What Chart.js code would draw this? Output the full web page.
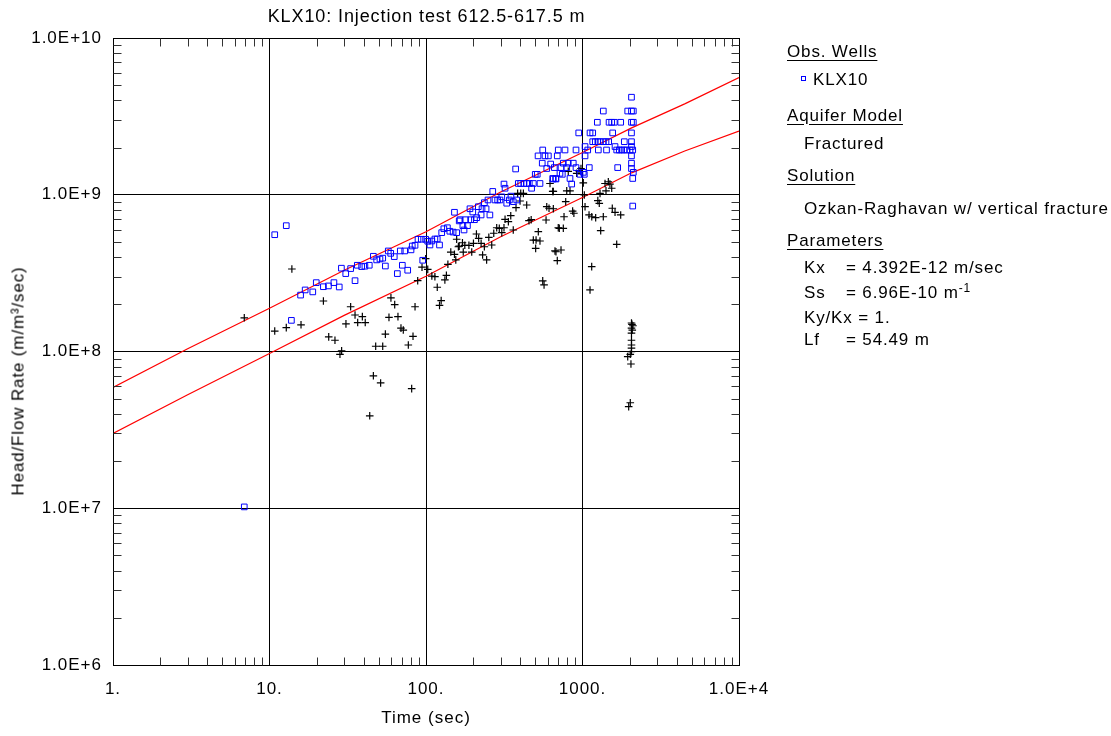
<!DOCTYPE html>
<html>
<head>
<meta charset="utf-8">
<title>KLX10 injection test</title>
<script src="https://cdn.jsdelivr.net/npm/chart.js@4/dist/chart.umd.min.js"></script>
<style>
  body { margin: 0; background: #fff; font-family: "Liberation Sans", Arial, sans-serif; }
  #wrap { position: relative; width: 1111px; height: 736px; overflow: hidden; }
  #chart { position: absolute; left: 0; top: 0; }
  .t { position: absolute; font-size: 17px; line-height: 17px; letter-spacing: 0.85px; color: #000; white-space: nowrap; }
  .u { text-decoration: underline; text-underline-offset: 3px; }
  #title { left: 0; width: 853px; top: 7px; text-align: center; font-size: 18px; line-height: 18px; letter-spacing: 0.9px; }
  #ytitle { left: 18px; top: 381px; transform: translate(-50%, -50%) rotate(-90deg); }
  #mark { position: absolute; left: 801px; top: 76px; width: 3px; height: 3px; border: 1px solid #0000ff; }
  sup { font-size: 12px; line-height: 0; vertical-align: 6px; }
</style>
</head>
<body>
<div id="wrap">
  <canvas id="chart" width="1111" height="736"></canvas>
  <div class="t" id="title">KLX10: Injection test 612.5-617.5 m</div>
  <div class="t" id="ytitle">Head/Flow Rate (m/m³/sec)</div>

  <div class="t u" style="left:787px; top:43px;">Obs. Wells</div>
  <div id="mark"></div>
  <div class="t" style="left:813px; top:71px;">KLX10</div>
  <div class="t u" style="left:787px; top:107px;">Aquifer Model</div>
  <div class="t" style="left:804px; top:135px;">Fractured</div>
  <div class="t u" style="left:787px; top:167px;">Solution</div>
  <div class="t" style="left:804px; top:200px;">Ozkan-Raghavan w/ vertical fracture</div>
  <div class="t u" style="left:787px; top:232px;">Parameters</div>
  <div class="t" style="left:804px; top:259px;">Kx</div>
  <div class="t" style="left:846px; top:259px;">= 4.392E-12 m/sec</div>
  <div class="t" style="left:804px; top:284px;">Ss</div>
  <div class="t" style="left:846px; top:284px;">= 6.96E-10 m<sup>-1</sup></div>
  <div class="t" style="left:804px; top:309px;">Ky/Kx = 1.</div>
  <div class="t" style="left:804px; top:331px;">Lf</div>
  <div class="t" style="left:846px; top:331px;">= 54.49 m</div>
</div>

<script>
// Axis ticks
const xTickValues = [1, 10, 100, 1000, 10000];
const xTickLabels = ['1.', '10.', '100.', '1000.', '1.0E+4'];
const yTickValues = [1e6, 1e7, 1e8, 1e9, 1e10];
const yTickLabels = ['1.0E+6', '1.0E+7', '1.0E+8', '1.0E+9', '1.0E+10'];
const minorSteps = [2, 3, 4, 5, 6, 7, 8, 9];

// Observed head/flow rate, well KLX10 (time in sec)
const wellTime = [
  6.9, 10.8, 12.8, 13.8, 15.8, 16.9, 18.9, 19.9, 22.1, 23.8, 25.8, 27.9, 28.8, 30.7, 33.0, 35.2, 36.4, 38.8, 40.7, 43.4,
  46.1, 48.4, 50.8, 52.9, 55.0, 57.4, 59.5, 62.7, 65.6, 68.5, 70.6, 73.1, 76.4, 80.2, 81.7, 85.1, 88.9, 93.3, 95.3, 99.5,
  102.6, 106, 109, 114, 118, 122, 126, 130, 137, 142, 149, 152, 157, 163, 165, 172, 175, 179, 184, 191,
  193, 199, 204, 211, 216, 225, 228, 236, 242, 249, 256, 267, 276, 287, 297, 305, 315, 320, 328, 341,
  349, 361, 374, 380, 389, 403, 423, 440, 457, 473, 485, 499, 514, 520, 535, 553, 557, 576, 591, 605,
  626, 645, 651, 661, 674, 677, 690, 700, 718, 729, 743, 754, 773, 793, 811, 832, 853, 873, 909, 909,
  946, 964, 1012, 1027, 1038, 1038, 1080, 1105, 1117, 1162, 1162, 1207, 1244, 1253, 1262, 1294, 1358, 1358, 1413, 1424,
  1470, 1478, 1537, 1559, 1597, 1614, 1654, 1678, 1718, 1754, 1779, 1841, 1850, 1916, 1945, 2012, 2056, 2056, 2056, 2056,
  2056, 2056, 2056, 2056, 2056, 2094, 2094, 2094, 2112, 2112, 2112
];
const wellHead = [
  1.02e7, 5.56e8, 6.35e8, 1.58e8, 2.29e8, 2.47e8, 2.40e8, 2.75e8, 2.59e8, 2.62e8, 2.75e8, 2.58e8, 3.40e8, 3.14e8, 3.38e8, 2.83e8, 3.55e8, 3.48e8, 3.50e8, 3.55e8,
  4.05e8, 3.84e8, 3.89e8, 3.94e8, 3.51e8, 4.38e8, 4.23e8, 4.03e8, 3.14e8, 4.38e8, 3.55e8, 4.38e8, 3.30e8, 4.45e8, 4.71e8, 4.76e8, 5.20e8, 5.20e8, 3.82e8, 5.20e8,
  5.05e8, 4.78e8, 5.07e8, 5.22e8, 5.22e8, 4.78e8, 5.73e8, 6.07e8, 6.16e8, 5.85e8, 5.78e8, 7.73e8, 5.73e8, 6.81e8, 6.93e8, 6.35e8, 5.96e8, 6.93e8, 6.35e8, 8.14e8,
  6.93e8, 7.76e8, 6.93e8, 7.14e8, 8.39e8, 7.43e8, 8.15e8, 8.90e8, 8.14e8, 9.26e8, 7.43e8, 1.05e9, 9.26e8, 9.26e8, 9.26e8, 9.70e8, 1.17e9, 1.10e9, 8.83e8, 9.26e8,
  9.80e8, 9.03e8, 1.46e9, 9.26e8, 1.18e9, 1.18e9, 1.18e9, 1.18e9, 1.18e9, 1.10e9, 1.18e9, 1.35e9, 1.35e9, 1.77e9, 1.18e9, 1.59e9, 1.93e9, 1.77e9, 1.47e9, 1.77e9,
  1.57e9, 1.27e9, 1.26e9, 1.49e9, 1.27e9, 1.26e9, 1.77e9, 1.93e9, 1.37e9, 1.49e9, 1.35e9, 1.59e9, 1.93e9, 1.49e9, 1.59e9, 1.27e9, 1.17e9, 1.59e9, 1.93e9, 1.49e9,
  2.48e9, 1.35e9, 1.39e9, 1.35e9, 2.03e9, 1.77e9, 1.93e9, 1.49e9, 2.48e9, 2.48e9, 2.18e9, 2.18e9, 2.90e9, 2.18e9, 1.93e9, 2.18e9, 3.42e9, 2.18e9, 2.18e9, 1.93e9,
  2.18e9, 2.90e9, 2.90e9, 2.48e9, 2.90e9, 2.03e9, 1.93e9, 1.49e9, 1.93e9, 2.90e9, 1.93e9, 1.93e9, 2.18e9, 1.93e9, 3.42e9, 1.93e9, 4.19e9, 3.42e9, 2.90e9, 2.48e9,
  2.18e9, 2.03e9, 1.77e9, 1.59e9, 1.47e9, 1.93e9, 1.27e9, 8.47e8, 3.42e9, 2.90e9, 1.39e9
];

// Derivative (crosses)
const derivTime = [
  6.9, 10.8, 12.8, 13.9, 15.9, 22.1, 23.9, 26.2, 28.2, 28.9, 30.8, 33.0, 35.2, 36.6, 39.2, 40.9, 43.7, 46.1, 47.7, 51.3,
  52.9, 55.0, 58.0, 59.7, 63.1, 66.2, 69.2, 71.6, 77.1, 81.0, 82.6, 85.1, 88.5, 94.3, 99.5, 102.6, 109, 114, 118, 122,
  125, 132, 135, 138, 144, 152, 155, 157, 161, 163, 171, 173, 177, 188, 196, 201, 210, 217, 225, 230,
  236, 244, 252, 263, 271, 283, 294, 305, 315, 320, 336, 348, 361, 376, 385, 399, 403, 419, 440, 455,
  470, 485, 502, 505, 522, 535, 557, 568, 585, 591, 611, 620, 645, 651, 651, 667, 677, 690, 700, 711,
  729, 754, 762, 781, 793, 811, 832, 865, 881, 918, 950, 978, 1012, 1027, 1038, 1101, 1117, 1145, 1146, 1214,
  1253, 1280, 1294, 1307, 1358, 1393, 1413, 1462, 1497, 1537, 1550, 1614, 1654, 1754, 1945, 1973, 2020, 2020, 2040, 2056,
  2056, 2056, 2056, 2056, 2056, 2056, 2070, 2080, 2100
];
const derivValue = [
  1.64e8, 1.35e8, 1.42e8, 3.36e8, 1.48e8, 2.10e8, 1.24e8, 1.18e8, 9.6e7, 1.01e8, 1.50e8, 1.93e8, 1.71e8, 1.53e8, 1.67e8, 1.53e8, 3.89e7, 7.0e7, 1.08e8, 6.3e7,
  1.08e8, 1.29e8, 1.65e8, 2.20e8, 1.99e8, 1.67e8, 1.41e8, 1.37e8, 1.10e8, 5.8e7, 1.25e8, 1.93e8, 2.83e8, 3.45e8, 3.91e8, 3.34e8, 3.03e8, 3.00e8, 2.57e8, 1.97e8,
  2.11e8, 2.86e8, 3.06e8, 3.60e8, 4.31e8, 4.17e8, 3.84e8, 5.20e8, 4.66e8, 4.70e8, 4.94e8, 4.31e8, 4.76e8, 4.76e8, 4.31e8, 4.90e8, 5.62e8, 5.27e8, 4.90e8, 4.13e8,
  4.66e8, 3.84e8, 5.35e8, 4.78e8, 5.68e8, 6.16e8, 6.10e8, 5.73e8, 6.16e8, 6.97e8, 6.73e8, 7.35e8, 5.96e8, 8.27e8, 1.02e9, 9.12e8, 1.02e9, 1.02e9, 8.60e8, 6.83e8,
  6.93e8, 5.14e8, 4.55e8, 5.14e8, 5.81e8, 5.07e8, 2.82e8, 2.66e8, 6.90e8, 8.39e8, 8.20e8, 1.18e9, 1.05e9, 8.14e8, 1.05e9, 4.38e8, 4.33e8, 3.80e8, 6.16e8, 6.11e8,
  4.44e8, 6.11e8, 7.24e8, 9.03e8, 1.06e9, 1.41e9, 1.06e9, 7.87e8, 7.62e8, 1.37e9, 1.42e9, 1.47e9, 1.19e9, 9.96e8, 8.39e8, 7.43e8, 2.47e8, 3.48e8, 7.24e8, 7.14e8,
  9.17e8, 8.82e8, 1.02e9, 5.90e8, 7.24e8, 1.18e9, 1.06e9, 1.21e9, 1.17e9, 1.10e9, 8.20e8, 7.73e8, 4.83e8, 7.43e8, 9.27e7, 4.45e7, 9.6e7, 4.71e7, 8.32e7, 1.52e8,
  1.41e8, 1.31e8, 1.18e8, 1.10e8, 1.05e8, 9.97e7, 1.49e8, 1.37e8, 1.46e8
];

// Ozkan-Raghavan type curves (upper: head, lower: derivative)
const curveTime = [1, 3, 10, 30, 100, 300, 1000, 2060, 4500, 10000];
const curveHead = [5.9e7, 1.04e8, 1.89e8, 3.3e8, 5.8e8, 1.04e9, 1.86e9, 2.67e9, 3.80e9, 5.6e9];
const curveDeriv = [3.0e7, 5.3e7, 9.7e7, 1.7e8, 3.02e8, 5.4e8, 9.6e8, 1.38e9, 1.90e9, 2.55e9];

const pts = (xs, ys) => xs.map((x, i) => ({ x, y: ys[i] }));
const font = { family: '"Liberation Sans", Arial, sans-serif', size: 17 };

// Frame on all four sides + inward minor ticks
const frameTicks = {
  id: 'frameTicks',
  beforeDraw(chart) {
    chart.ctx.letterSpacing = '1px';
  },
  afterDraw(chart) {
    const { ctx, chartArea: a, scales: { x, y } } = chart;
    const len = 8;
    ctx.save();
    ctx.strokeStyle = '#000';
    ctx.lineWidth = 1;
    const L = Math.round(a.left) + 0.5, T = Math.round(a.top) + 0.5;
    const R = Math.round(a.right) + 0.5, B = Math.round(a.bottom) + 0.5;
    ctx.strokeRect(L, T, R - L, B - T);
    ctx.strokeStyle = '#333';
    ctx.beginPath();
    xTickValues.slice(0, -1).forEach(d => minorSteps.forEach(m => {
      const px = Math.round(x.getPixelForValue(d * m)) + 0.5;
      ctx.moveTo(px, B); ctx.lineTo(px, B - len);
      ctx.moveTo(px, T); ctx.lineTo(px, T + len);
    }));
    yTickValues.slice(0, -1).forEach(d => minorSteps.forEach(m => {
      const py = Math.round(y.getPixelForValue(d * m)) + 0.5;
      ctx.moveTo(L, py); ctx.lineTo(L + len, py);
      ctx.moveTo(R, py); ctx.lineTo(R - len, py);
    }));
    ctx.stroke();
    ctx.restore();
  }
};

new Chart(document.getElementById('chart'), {
  type: 'scatter',
  data: {
    datasets: [
      {
        label: 'KLX10',
        data: pts(wellTime, wellHead),
        pointStyle: 'rect',
        pointRadius: 4,
        borderColor: '#0000ff',
        backgroundColor: 'rgba(0,0,0,0)',
        borderWidth: 1
      },
      {
        label: 'Derivative',
        data: pts(derivTime, derivValue),
        pointStyle: 'cross',
        pointRadius: 3.8,
        borderColor: '#000',
        borderWidth: 1.2
      },
      {
        label: 'Head curve',
        data: pts(curveTime, curveHead),
        showLine: true,
        pointRadius: 0,
        borderColor: '#ff0000',
        borderWidth: 1.2,
        tension: 0
      },
      {
        label: 'Derivative curve',
        data: pts(curveTime, curveDeriv),
        showLine: true,
        pointRadius: 0,
        borderColor: '#ff0000',
        borderWidth: 1.2,
        tension: 0
      }
    ]
  },
  options: {
    responsive: false,
    animation: false,
    devicePixelRatio: 1,
    events: [],
    layout: { padding: { left: 0, top: 38, right: 372, bottom: 0 } },
    plugins: { legend: { display: false }, tooltip: { enabled: false } },
    scales: {
      x: {
        type: 'logarithmic',
        min: 1,
        max: 10000,
        afterBuildTicks: s => { s.ticks = xTickValues.map(v => ({ value: v })); },
        afterFit: s => { s.height = 71; },
        grid: { color: '#000', lineWidth: 1, drawTicks: false },
        border: { color: '#000' },
        ticks: {
          autoSkip: false, maxRotation: 0, padding: 14, color: '#000', font,
          callback: (v, i) => xTickLabels[i]
        },
        title: { display: true, text: 'Time (sec)', color: '#000', font, padding: { top: 0, bottom: 7 } }
      },
      y: {
        type: 'logarithmic',
        min: 1e6,
        max: 1e10,
        afterBuildTicks: s => { s.ticks = yTickValues.map(v => ({ value: v })); },
        afterFit: s => { s.width = 113; },
        grid: { color: '#000', lineWidth: 1, drawTicks: false },
        border: { color: '#000' },
        ticks: {
          autoSkip: false, padding: 11, color: '#000', font,
          callback: (v, i) => yTickLabels[i]
        }
      }
    }
  },
  plugins: [frameTicks]
});
</script>
</body>
</html>
